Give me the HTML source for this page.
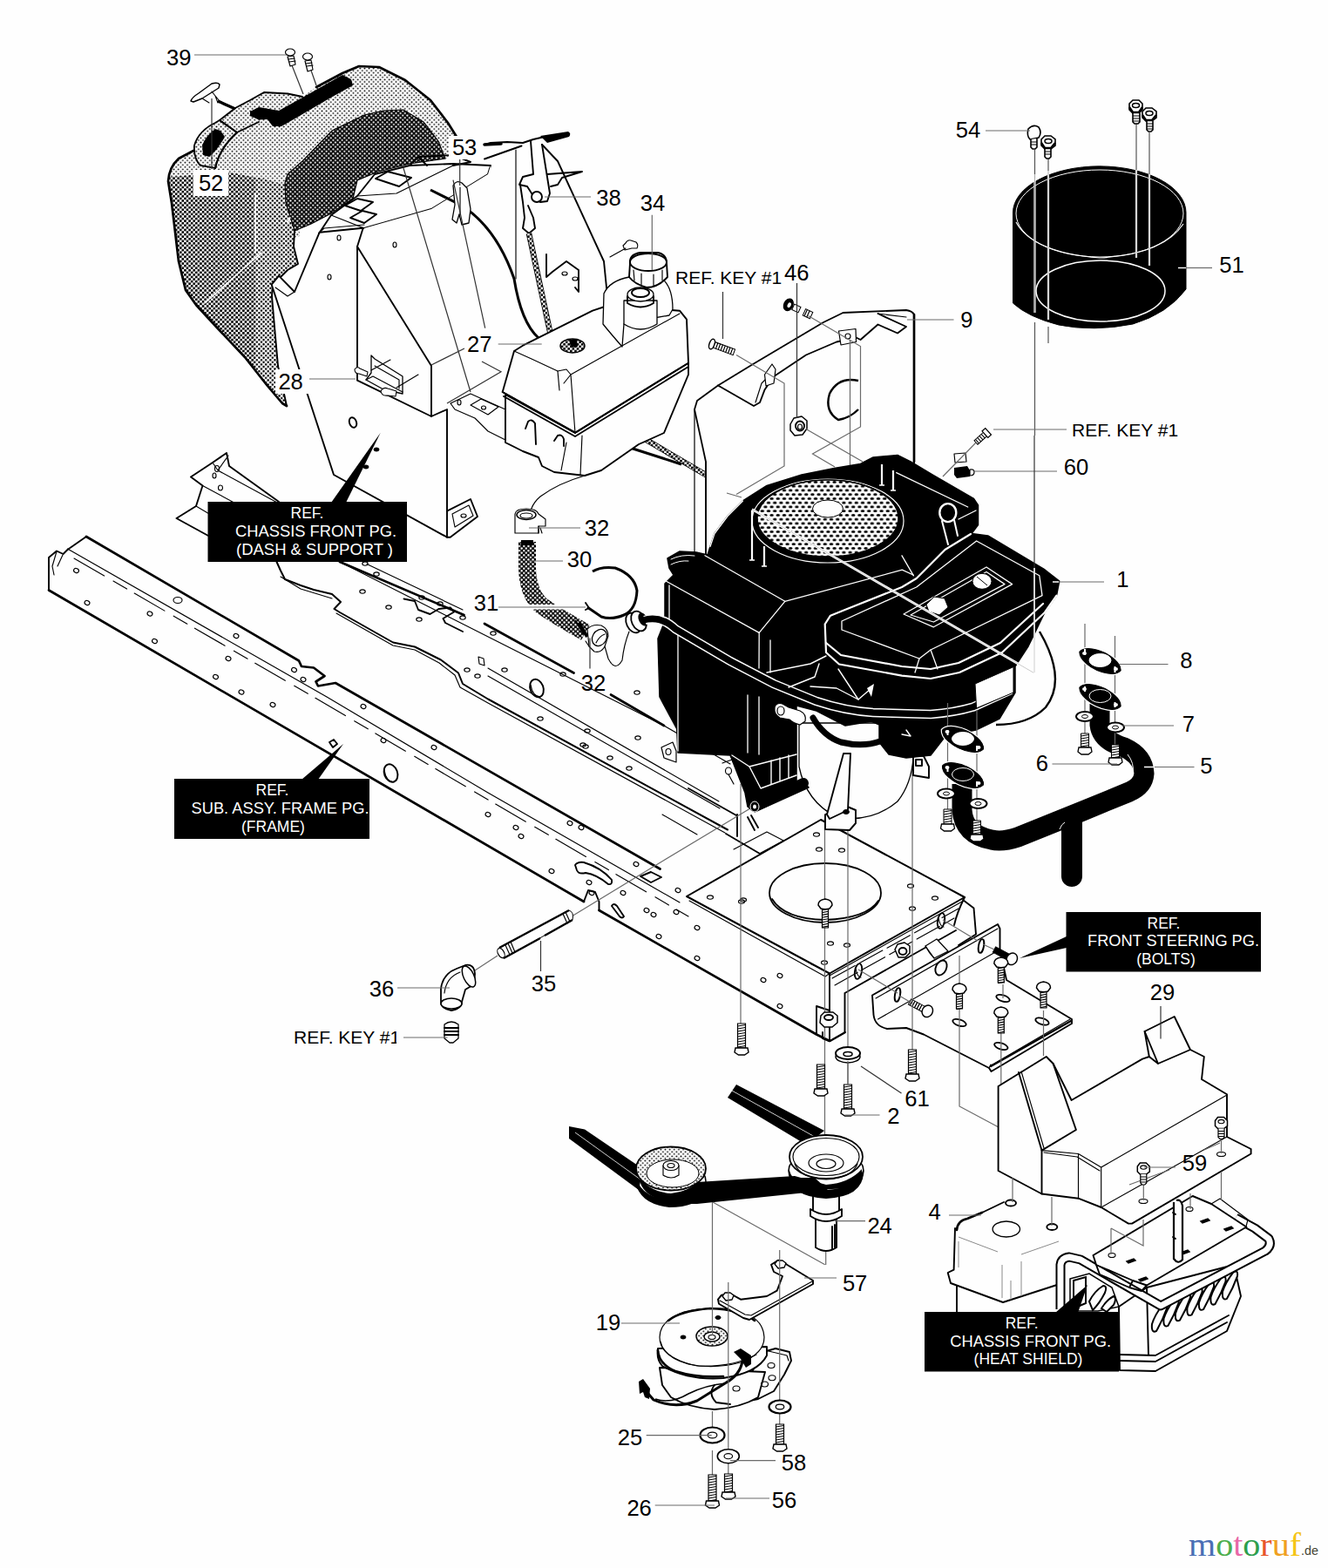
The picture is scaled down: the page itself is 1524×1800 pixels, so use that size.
<!DOCTYPE html>
<html><head><meta charset="utf-8"><title>Engine parts diagram</title>
<style>
html,body{margin:0;padding:0;background:#fefefe;}
body{width:1524px;height:1800px;overflow:hidden;font-family:"Liberation Sans",sans-serif;}
svg{display:block;position:absolute;left:0;top:0;}
.o{fill:#fefefe;stroke:#000;stroke-width:1.9;stroke-linejoin:round;stroke-linecap:round;}
.n{fill:none;stroke:#000;stroke-width:1.9;stroke-linejoin:round;stroke-linecap:round;}
.t{fill:none;stroke:#000;stroke-width:1.15;stroke-linejoin:round;stroke-linecap:round;}
.tw{fill:#fefefe;stroke:#000;stroke-width:1.15;stroke-linejoin:round;stroke-linecap:round;}
.h{fill:none;stroke:#000;stroke-width:2.7;stroke-linejoin:round;stroke-linecap:round;}
.l{fill:none;stroke:#6a6a6a;stroke-width:1.2;}
.g{fill:none;stroke:#8a8a8a;stroke-width:1;}
.k{fill:#000;stroke:#000;stroke-width:1;stroke-linejoin:round;}
.w{fill:none;stroke:#fefefe;stroke-width:1.5;stroke-linecap:round;stroke-linejoin:round;}
.wf{fill:#fefefe;stroke:none;}
.num{font-family:"Liberation Sans",sans-serif;font-size:25.6px;fill:#000;}
.ref{font-family:"Liberation Sans",sans-serif;font-size:21px;fill:#000;}
.lbl{font-family:"Liberation Sans",sans-serif;font-size:17.5px;fill:#fff;text-anchor:middle;}
</style></head><body>
<svg width="1524" height="1800" viewBox="0 0 1524 1800">
<defs>
<pattern id="d0" width="5.15" height="5.15" patternUnits="userSpaceOnUse"><rect width="5.15" height="5.15" fill="#fefefe"/><circle cx="1.2875" cy="1.2875" r="0.95" fill="#000"/><circle cx="3.8625" cy="3.8625" r="0.95" fill="#000"/></pattern>
<pattern id="dm" width="5.15" height="5.15" patternUnits="userSpaceOnUse"><rect width="5.15" height="5.15" fill="#fefefe"/><circle cx="1.2875" cy="1.2875" r="1.25" fill="#000"/><circle cx="3.8625" cy="3.8625" r="1.25" fill="#000"/></pattern>
<pattern id="d1" width="5.15" height="5.15" patternUnits="userSpaceOnUse"><rect width="5.15" height="5.15" fill="#fefefe"/><circle cx="1.2875" cy="1.2875" r="1.46" fill="#000"/><circle cx="3.8625" cy="3.8625" r="1.46" fill="#000"/></pattern>
<pattern id="d2" width="5.15" height="5.15" patternUnits="userSpaceOnUse"><rect width="5.15" height="5.15" fill="#000"/><circle cx="1.2875" cy="1.2875" r="1.05" fill="#fefefe"/><circle cx="3.8625" cy="3.8625" r="1.05" fill="#fefefe"/></pattern>
<pattern id="scr" width="7.2" height="9.5" patternUnits="userSpaceOnUse"><rect width="7.2" height="9.5" fill="#fefefe"/><ellipse cx="0" cy="2.4" rx="2.3" ry="1.5" fill="#000"/><ellipse cx="7.2" cy="2.4" rx="2.3" ry="1.5" fill="#000"/><ellipse cx="3.6" cy="7.15" rx="2.3" ry="1.5" fill="#000"/></pattern>
<pattern id="dh" width="5.15" height="5.15" patternUnits="userSpaceOnUse"><rect width="5.15" height="5.15" fill="#000"/><circle cx="1.2875" cy="1.2875" r="1.25" fill="#fefefe"/><circle cx="3.8625" cy="3.8625" r="1.25" fill="#fefefe"/></pattern>
</defs>
<!-- 10_hood.svg -->
<g id="hood">
<!-- upper light body -->
<path d="M222,173 L205,182 Q195,190 193,205 L197,233 L205,300 L300,300 L345,270 L330,230 L327,210 L347,185 L380,163 L413,143 L440,133 L470,127 L490,145 L505,165 L512,182 L528,182 L524,157 L514,141 L494,115 L465,92 L435,77 L412,76 L393,84 L363,100 L347,111 L330,107.5 L303,106 L287,115 L270,124 L252,138 L247,141 Q228,150 223,167 Z" fill="url(#d0)" stroke="none"/>
<!-- lower darker body -->
<path d="M194,203 L263,198 L300,205 L327,212 L330,232 L338,265 L337,283 L342,303 L330,310 L313,327 L312,340 L315,375 L319,420 L329,466 L324,463 L307,443 L281,410 L248,375 L225,350 L213,333 L205,300 L197,233 Z" fill="url(#d1)" stroke="none"/>
<path d="M293,205 L327,212 L330,232 L338,265 L337,283 L342,303 L330,310 L313,327 L312,340 L315,375 L319,420 L329,466 L324,463 L307,443 L293,425 Z" fill="url(#dm)" stroke="none"/>
<!-- inner dark opening -->
<path d="M511,182 L503,162 L486,140 L463,126 L440,127 L418,132 L381,150 L347,185 L330,200 L327,210 L328,233 L335,255 L338,265 L357,257 L380,245 L405,228 L410,207 L434,197 L470,188 Z" fill="url(#d2)" stroke="#000" stroke-width="1.2"/>
<!-- outline -->
<path class="h" d="M329,466 L324,463 L307,443 L281,410 L248,375 L225,350 L213,333 L205,300 L197,233 L193,208 Q194,192 205,182 L222,173"/>
<path class="n" d="M270,124 L287,115 L303,106 L330,107.5 L347,111"/>
<path class="h" d="M363,100 L393,84 L412,76 L435,77 L465,92 L494,115 L514,141 L524,157 L528,175"/>
<path class="n" d="M338,265 L337,283 L342,303 L330,310 L313,327 L312,340 L315,375 L319,420 L329,466"/>
<!-- ring boss -->
<path d="M252,138 L247,141 Q228,150 223,167 Q222,182 230,190 L247,193 Q252,170 272,152 Z" fill="url(#d0)" stroke="#000" stroke-width="1.8"/>
<path d="M247,148 Q236,156 232,167 L233,178 L240,180 Q250,172 258,157 L253,150 Z" fill="#000"/>
<path class="n" d="M252,138 L270,124 M252,138 L272,152 L297,140 M247,193 Q252,170 272,152"/>
<!-- black stripe -->
<path d="M287,128 L297,123 L320,127 L347,112 L393,86 L403,91 L405,98 L378,113 L337,137 L323,145 L313,145 L307,137 L297,137.5 L287,133 Z" fill="#000"/>
<!-- highlights -->
<path class="w" d="M293,222 L293,290 M235,348 L300,290 M330,255 L333,250"/>
</g>
<!-- 15_dash.svg -->
<g id="dash">
<!-- right tall panel (behind) -->
<path class="wf" d="M563,190 L600,168 L622,166 L640,185 L693,300 L698,350 L660,372 L640,390 L600,396 L590,403 L577,450 L560,440 L540,300 Z"/>
<path class="n" d="M556,182.500 L598.500,167.500"/>
<path class="n" d="M622,166 L640,185 L693,300 L698,350"/>
<!-- top bracket / top plate -->
<path class="o" d="M366,268 L380,247 L410,225 L430,200 L470,190 L520,188 L563,190 L560,200 L495,240 L418,262 Z"/>
<path class="t" d="M380,247 L418,262 M410,225 L455,222 L520,190"/>
<path class="n" d="M431,205 L445,197 L472,204 L458,214 Z M396,236 L410,228 L428,232 L414,242 Z M402,250 L416,242 L432,246 L418,256 Z"/>
<path class="n" d="M470,190 L480,180 L520,178 L540,186 L520,190 M480,180 L490,190"/>
<!-- side panel (going back) -->
<path class="wf" d="M418,262 L495,240 L560,200 L563,190 L575,300 L590,403 L577,450 L580,510 L560,500 L540,470 L513,470 L495,478 L495,420 L410,283 Z"/>
<!-- front panel -->
<path class="o" d="M311.700,326.700 L320,316.700 L338,335 L366.700,266.700 L416.700,261.700 L410,283 L410,436.700 L495,478 L513,470 L513,616.700 L383,545 Z"/>
<path class="n" d="M410,283 L495,420 L495,478"/>
<path class="t" d="M366.700,266.700 L372,262 L418,258 M338,335 L330,340 L316,330"/>
<path class="n" d="M513,616.700 L516.700,616.700 L548,593 L540,573 L513,586.700"/>
<path class="t" d="M519,590 L538,580 L543,592 L522,605 Z"/>
<ellipse cx="532" cy="592" rx="3" ry="2" class="t"/>
<ellipse cx="405" cy="485" rx="4" ry="6" class="n" transform="rotate(-20 405 485)"/>
<ellipse cx="389" cy="273" rx="2" ry="3" class="t"/><ellipse cx="453" cy="281" rx="2" ry="3" class="t"/><ellipse cx="378" cy="318" rx="2" ry="3" class="t"/>
<ellipse cx="432" cy="516" rx="3" ry="2" class="k"/><ellipse cx="420" cy="536" rx="3" ry="2" class="k"/>
<!-- small bracket 28 -->
<path class="o" d="M426,408 L426,428 L420,436 L440,447 L462,452 L462,432 L430,412 Z" style="stroke-width:1.3"/>
<path class="t" d="M430,420 L458,436 L458,446 M420,436 L428,432 L462,450"/>
<path class="o" d="M407,424 q3,-4 6,-1 l9,4 l-1,5 l-9,-3 q-5,0 -5,-5 z M437,449 q3,-5 8,-3 l10,3 l-1,6 l-9,-1 q-7,1 -8,-5 z" style="stroke-width:1.1"/>
<path class="t" d="M426,425 L448,413 M455,445 L480,430"/>
<!-- tank bracket under 27 -->
<path class="o" d="M517,463 L540,452 L580,470 L580,505 L560,495 L545,480 L522,470 Z" style="stroke-width:1.2"/>
<path class="t" d="M540,465 L552,458 L572,467 L560,476 Z"/>
<ellipse cx="555" cy="468" rx="2.500" ry="2" class="t"/><ellipse cx="527" cy="462" rx="2" ry="3" class="t"/>
<!-- lever 38 assembly -->
<path class="n" d="M556,166 L563,164 L582,163 L600,164 L612,160 L625,157"/>
<path class="h" d="M556,166 L575,165" style="stroke-width:3.500"/>
<path d="M620,156 L652,151 Q656,153 653,157 L628,164 Z" fill="#000"/>
<path class="n" d="M609,162 L612,200 L600,203 L596,212 L605,214 L612,225 L620,232 L628,231 L631,222 L622,166"/>
<path class="n" d="M628,200 L668,197 L645,204 L640,212 L632,214"/>
<circle cx="616" cy="226" r="6" class="o"/>
<path class="n" d="M597,212 L600,232 L602,250 L600,262 L607,268 L614,262 L612,250 L606,236"/>
<path class="t" d="M592,172 L592,320"/>
<!-- dotted cable -->
<path d="M607,268 L632,385 M700,480 L740,504 L815,548" fill="none" stroke="#000" stroke-width="6.500"/>
<path d="M607,268 L632,385 M700,480 L740,504 L815,548" fill="none" stroke="url(#d1)" stroke-width="5"/>
<path d="M815,546 L822,548 L822,558 L834,566" fill="none" stroke="#000" stroke-width="1.200"/>
<path d="M720,513 L782,533" fill="none" stroke="#000" stroke-width="3"/>
<!-- black cable 53 -->
<path d="M494,218 L530,236 Q570,262 590,320 Q598,370 618,388" fill="none" stroke="#000" stroke-width="3"/>
<!-- clip 53 -->
<path class="o" d="M520,213 Q524,206 530,210 L536,216 L540,240 L538,256 L530,258 L527,246 L524,256 L519,252 L522,235 Z" style="stroke-width:1.300"/>
<path class="t" d="M528,215 L528,246"/>
<!-- small clip near panel -->
<path class="n" d="M627,292 L627,318 L634,312 L650,300 L664,310 L664,335 L660,330"/>
<ellipse cx="648" cy="314" rx="3" ry="2" class="t"/><ellipse cx="660" cy="320" rx="3" ry="2" class="t"/>
</g>
<!-- 16_tank.svg -->
<g id="tank">
<!-- lower body -->
<path class="o" d="M580,453 L580,508 L600,518 L618,525 L622,535 L636,542 L671,546 L690,540 L733,510 L762,497 L790,430 L790,416 L660,497 Z"/>
<!-- upper body -->
<path class="o" d="M590,403 L600,396.700 L680,356.700 L700,350 L780,356.700 L788,366.700 L790,416.700 L660,496.700 L576.700,450 Z"/>
<path class="n" d="M576.700,450 L660,496.700 L790,416.700 M578,455 L660,501 L790,421"/>
<path class="t" d="M590,403 L610,412 L640,426 L650,424 L655,430 L647,440 M655,430 L660,497 M655,430 L780,360"/>
<path class="t" d="M640,426 L642,448 M668,500 L666,545 M650,508 L644,540"/>
<!-- strap -->
<path class="o" d="M693,337 Q700,322 722,318 L760,320 Q772,330 772,355 L768,362 L745,366 L716,372 L714,398 Q700,382 692,372 Z" style="stroke-width:1.300"/>
<!-- filler neck -->
<path class="o" d="M716,345 L716,372 Q735,384 754,372 L754,345 Z" style="stroke-width:1.300"/>
<ellipse cx="735" cy="338" rx="15" ry="8" class="o" style="stroke-width:1.300"/>
<ellipse cx="735" cy="336" rx="10" ry="5" class="n"/>
<path class="n" d="M720,340 L720,348 Q735,357 750,348 L750,340"/>
<!-- cap 34 -->
<path class="o" d="M723,302 Q722,292 735,290 L755,290 Q765,292 765,302 L766,318 Q755,330 742,330 Q728,326 722,318 Z"/>
<ellipse cx="744" cy="301" rx="21" ry="10" class="o"/>
<path class="t" d="M727,310 L728,322 M736,314 L736,327 M750,315 L750,329 M760,310 L760,322"/>
<!-- vent -->
<ellipse cx="657" cy="397" rx="14" ry="8" fill="url(#d1)" stroke="#000" stroke-width="1.500"/>
<path d="M653,390 L662,390 L663,398 L655,399 Z" fill="#000"/>
<!-- small screw -->
<path class="o" d="M718,279 q2,-4 6,-3 l6,2 q3,3 1,7 l-6,0 l-8,2 l-2,-5 z" style="stroke-width:1.100"/>
<path class="t" d="M700,295 L718,285"/>
<!-- tabs -->
<path class="n" d="M603,492 L606,484 Q610,480 614,486 L615,510 M636,506 L640,500 Q645,498 647,504 L647,512"/>
</g>
<!-- 18_fender.svg -->
<g id="fender">
<path class="o" d="M800,460 L824,442.500 L865,417.500 L945,370 L967.500,359 L1040,356 Q1047,357 1049,361 L1049,540 L810,640 L810,530 L797,470 Z" style="stroke-width:1.800"/>
<path class="n" d="M797,470 L797,640 M810,530 L810,640" style="stroke-width:1.200"/>
<path class="n" d="M824,442.500 L865,466 L872,462 L877.500,447.500 L887.500,432.500 L925,407.500 L960,392.500 L982.500,387.500 L987.500,390 L1007.500,372.500 L1030,382.500 L1040,375 L1007.500,360"/>
<path class="t" d="M1007.500,360 L1040,364 M867,462 L874,440 L888,426"/>
<path class="h" d="M1049,361 L1049,530"/>
<!-- hole C shape -->
<path d="M985,437 Q962,432 952,452 Q946,472 962,482 Q975,480 985,470" fill="none" stroke="#000" stroke-width="2.400"/>
<!-- tabs -->
<path class="o" d="M962.500,380 L982,377.500 L982.500,392.500 L965,396 Z" style="stroke-width:1.200"/>
<ellipse cx="973" cy="386" rx="3" ry="3" class="t"/>
<path class="o" d="M877.500,430 L886,418 L890,424 L888,440 L879,443 Z" style="stroke-width:1.200"/>
<!-- nut -->
<path class="o" d="M907,487 l4,-7 l9,-2 l6,5 l0,9 l-5,7 l-9,1 l-5,-6 z" style="stroke-width:1.500"/>
<ellipse cx="918" cy="489" rx="5" ry="5.500" class="n"/><ellipse cx="918" cy="490" rx="2.500" ry="3" class="t"/>
<!-- screws -->
<g transform="translate(817,395) rotate(20)"><ellipse cx="0" cy="0" rx="3" ry="6" fill="#fefefe" stroke="#000" stroke-width="1.500"/><rect x="3" y="-3.500" width="24" height="7" fill="#fefefe" stroke="#000" stroke-width="1"/><path d="M6,-3.500 v7 M9,-3.500 v7 M12,-3.500 v7 M15,-3.500 v7 M18,-3.500 v7 M21,-3.500 v7 M24,-3.500 v7" stroke="#000" stroke-width="1.200"/></g>
<g transform="translate(903,349) rotate(25)"><ellipse cx="2" cy="0" rx="5" ry="7" fill="#000" stroke="#000" stroke-width="1.500"/><ellipse cx="3" cy="0" rx="2" ry="3" fill="#fefefe"/><rect x="8" y="-3.500" width="8" height="7" fill="#fefefe" stroke="#000" stroke-width="1"/><rect x="22" y="-4" width="9" height="8" fill="#fefefe" stroke="#000" stroke-width="1"/><path d="M24,-4 v8 M27,-4 v8" stroke="#000" stroke-width="1.200"/></g>
<!-- leader/assembly lines -->
<path class="l" stroke="#444" d="M845,407.500 L900,440 L900,535 L845,567.500 M851,571 L834,566 M927.500,362.500 L987.500,397.500 L987.500,490 L932.500,521 L958,536 M925,492.500 L990,530 M975.500,390 L975.500,535"/>
<!-- part 60 clip & screw -->
<path d="M1095,537 L1110,535 L1113,540 L1113,547 L1098,549 L1095,545 Z" fill="#000"/>
<path class="o" d="M1113,539 q5,-1 5,3 q0,4 -5,4 z" style="stroke-width:1.200"/>
<path class="tw" d="M1095,521 L1108,520 L1109,530 L1096,531 Z"/>
<g transform="translate(1120,508) rotate(-42)"><rect x="0" y="-3" width="14" height="6" fill="#fefefe" stroke="#000" stroke-width="1"/><path d="M2,-3 v6 M5,-3 v6 M8,-3 v6 M11,-3 v6" stroke="#000" stroke-width="1"/><path d="M14,-5 h5 v10 h-5 z" fill="#fefefe" stroke="#000" stroke-width="1.200"/></g>
<path class="l" stroke="#444" d="M1082,547 L1120,508"/>
</g>
<!-- 20_ring51.svg -->
<g id="ring51">
<path d="M1162.5,244 A99,53 0 0 1 1361,244 L1361,332 Q1340,360 1300,372 Q1255,381 1215,373 Q1180,364 1162.5,348 Z" fill="#000" stroke="#000" stroke-width="1"/>
<ellipse cx="1262" cy="245" rx="96" ry="50" fill="none" stroke="#fefefe" stroke-width="1"/>
<path d="M1166,255 Q1185,290 1262,296 Q1335,292 1358,257" fill="none" stroke="#fefefe" stroke-width="1.2"/>
<ellipse cx="1263" cy="334" rx="74" ry="35" fill="none" stroke="#fefefe" stroke-width="1.5"/>
<!-- long bolts: grey outside, white inside -->
<g fill="none" stroke="#555" stroke-width="1.2">
<path d="M1187.5,172 L1187.5,205 M1203,182 L1203,200 M1304,142 L1304,200 M1319,152 L1319,205"/>
<path d="M1187.5,370 L1187.5,500 M1203,375 L1203,394"/>
</g>
<g fill="none" stroke="#fefefe" stroke-width="2.2">
<path d="M1187.5,200 L1187.5,359 M1203,196 L1203,367 M1304,195 L1304,296 M1319,200 L1319,305"/>
</g>
<g fill="none" stroke="#777" stroke-width="0.6">
<path d="M1187.5,200 L1187.5,359 M1203,196 L1203,367 M1304,195 L1304,296 M1319,200 L1319,305"/>
</g>
<!-- bolts -->
<g id="hexb">
</g>
<g stroke="#000" stroke-width="1.6" fill="#fefefe">
<path d="M1296,119 L1300,115 L1307,115 L1311,119 L1311,126 L1307,130 L1300,130 L1296,126 Z"/>
<path d="M1300,130 L1300,140 L1302,142 L1306,142 L1308,140 L1308,130"/>
<path d="M1311,128 L1315,124 L1322,124 L1327,128 L1327,135 L1322,139 L1315,139 L1311,135 Z"/>
<path d="M1316,139 L1316,149 L1318,151 L1321,151 L1323,149 L1323,139"/>
<path d="M1195,160 L1199,156 L1206,156 L1211,160 L1211,167 L1206,171 L1199,171 L1195,167 Z"/>
<path d="M1199,171 L1199,180 L1201,182 L1204,182 L1206,180 L1206,171"/>
<path d="M1180,148 Q1186,142 1192,146 Q1196,152 1192,158 L1182,160 Q1178,156 1180,148 Z"/>
<path d="M1183,160 L1183,169 L1185,171 L1188,171 L1190,169 L1190,159"/>
</g>
<g stroke="#000" stroke-width="1" fill="none">
<path d="M1300,133 h8 M1300,136 h8 M1300,139 h8 M1316,142 h7 M1316,145 h7 M1316,148 h7 M1199,174 h7 M1199,177 h7 M1183,163 h7 M1183,166 h7"/>
<ellipse cx="1303.500" cy="121" rx="4" ry="2.500" stroke-width="1.500"/><ellipse cx="1319" cy="130" rx="4" ry="2.500" stroke-width="1.500"/><ellipse cx="1203" cy="162" rx="4" ry="2.500" stroke-width="1.500"/>
<path d="M1296,123 l4,6 h7 l4,-6 M1311,132 l4,6 h7 l5,-6 M1195,164 l4,6 h7 l5,-6" stroke-width="2.500"/>
</g>
<!-- leaders -->
<path d="M1352,307.500 L1361,307.500" stroke="#fefefe" stroke-width="1.4" fill="none"/>
<path class="l" d="M1361,307.500 L1391,307.500"/>
<path class="l" d="M1131,150 L1182,150"/>
</g>
<!-- 30_frame.svg -->
<g id="frame">
<path class="wf" d="M317,645 L390,645 L532,706 L660,774 L762,835 L840,880 L840,955 L762,920 L531,785 L445,733 L383,699 Z"/>
<path class="h" d="M390,645 L532.5,706 M556,716 L658.5,772.5 M701,797.5 L762,833"/>
<path class="t" d="M421,647.5 L531,700"/>
<path class="t" d="M390,645 L762,833 L838,877"/>
<path class="t" d="M560,767 L825,920 M560,776 L826,928"/>
<path class="h" style="stroke-width:2" d="M317.500,645 L322,655 L327,665 L345,672 L360,677 L381,682 L391,691 L383.500,699 L390,703 L451,737.500 L476,742.500 L506,757.500 L526,772.500 L531,785 L560,802.500 L835,952.500"/>
<path class="t" d="M322,662 L345,676 L381,687 M386,704 L451,741 L476,746 L504,761 L522,775 L528,789 L560,807 L832,956"/>
<path class="n" d="M463.500,687.500 L476,690 L480,700 L493.500,705 L503.500,699 L517,697.500 L521,702.500 L508.500,710 L511,715 L531,725"/>
<ellipse cx="616" cy="790" rx="7.500" ry="10.500" class="n" transform="rotate(-20 616 790)"/>
<path class="t" d="M609,786 Q611,799 620,800"/>
<path class="t" d="M549,754 L555,756 L556,764 L550,762 Z"/>
<ellipse cx="419" cy="647" rx="3.200" ry="2.200" class="t"/>
<ellipse cx="432" cy="659" rx="3.200" ry="2.200" class="t"/>
<ellipse cx="416" cy="679" rx="3.200" ry="2.200" class="t"/>
<ellipse cx="446" cy="697" rx="3.200" ry="2.200" class="t"/>
<ellipse cx="484" cy="686" rx="3.200" ry="2.200" class="t"/>
<ellipse cx="505" cy="693" rx="3.200" ry="2.200" class="t"/>
<ellipse cx="481" cy="711" rx="3.200" ry="2.200" class="t"/>
<ellipse cx="531" cy="709" rx="3.200" ry="2.200" class="t"/>
<ellipse cx="566" cy="727" rx="3.200" ry="2.200" class="t"/>
<ellipse cx="536" cy="769" rx="3.200" ry="2.200" class="t"/>
<ellipse cx="548" cy="776" rx="3.200" ry="2.200" class="t"/>
<ellipse cx="579" cy="769" rx="3.200" ry="2.200" class="t"/>
<ellipse cx="646" cy="774" rx="3.200" ry="2.200" class="t"/>
<ellipse cx="674" cy="839" rx="3.200" ry="2.200" class="t"/>
<ellipse cx="732" cy="847" rx="3.200" ry="2.200" class="t"/>
<ellipse cx="672" cy="857" rx="3.200" ry="2.200" class="t"/>
<ellipse cx="700" cy="870" rx="3.200" ry="2.200" class="t"/>
<ellipse cx="722" cy="882" rx="3.200" ry="2.200" class="t"/>
<ellipse cx="731" cy="795" rx="3.200" ry="2.200" class="t"/>
<ellipse cx="669" cy="855" rx="3.200" ry="2.200" class="t"/>
<ellipse cx="620" cy="825" rx="3.200" ry="2.200" class="t"/>
<path class="wf" d="M99,616 L343,758.500 L385,784 L757.500,997.500 L790,1030 L952,1117 L952,1195 L937,1187.500 L687.500,1045 L687.500,1035 L670,1035 L56,677.500 L56,640 L77.500,631 Z"/>
<path class="h" d="M99,616 L343,758.500 L346,765 L360,766.500 L372.500,776 L362.500,782.500 L365,787.500 L385,784 L757.500,997.500"/>
<path class="n" d="M99,616 L77.500,631 L72.500,636 L65,632.500 L56,640 L56,677.500"/>
<path class="t" d="M65,633 L60,650 L62,660 M72,637 L66,650"/>
<path class="h" d="M56,677.500 L670,1035"/>
<path class="n" d="M670,1035 L675,1022 L683,1024 L687.500,1035 L687.500,1045"/>
<path class="h" d="M687.500,1045 L937,1187.500 L952,1195 L969.500,1185"/>
<path class="t" d="M77.500,630 L375,800 L560,910 L780,1036"/>
<path class="t" stroke-dasharray="40 12 18 10" d="M85,641 L370,806 L560,918 L790,1052"/>
<ellipse cx="87.5" cy="655" rx="3" ry="2.400" class="t" transform="rotate(25 87.5 655)"/>
<ellipse cx="100" cy="692" rx="3" ry="2.400" class="t" transform="rotate(25 100 692)"/>
<ellipse cx="172" cy="704.5" rx="3" ry="2.400" class="t" transform="rotate(25 172 704.5)"/>
<ellipse cx="177.5" cy="736" rx="3" ry="2.400" class="t" transform="rotate(25 177.5 736)"/>
<ellipse cx="271" cy="730" rx="3" ry="2.400" class="t" transform="rotate(25 271 730)"/>
<ellipse cx="262" cy="756" rx="3" ry="2.400" class="t" transform="rotate(25 262 756)"/>
<ellipse cx="247.5" cy="777" rx="3" ry="2.400" class="t" transform="rotate(25 247.5 777)"/>
<ellipse cx="277" cy="794.5" rx="3" ry="2.400" class="t" transform="rotate(25 277 794.5)"/>
<ellipse cx="313" cy="809" rx="3" ry="2.400" class="t" transform="rotate(25 313 809)"/>
<ellipse cx="337.5" cy="769" rx="3" ry="2.400" class="t" transform="rotate(25 337.5 769)"/>
<ellipse cx="348" cy="780" rx="3" ry="2.400" class="t" transform="rotate(25 348 780)"/>
<ellipse cx="417" cy="811" rx="3" ry="2.400" class="t" transform="rotate(25 417 811)"/>
<ellipse cx="440" cy="850" rx="3" ry="2.400" class="t" transform="rotate(25 440 850)"/>
<ellipse cx="498" cy="858" rx="3" ry="2.400" class="t" transform="rotate(25 498 858)"/>
<ellipse cx="560" cy="935" rx="3" ry="2.400" class="t" transform="rotate(25 560 935)"/>
<ellipse cx="592" cy="950" rx="3" ry="2.400" class="t" transform="rotate(25 592 950)"/>
<ellipse cx="598" cy="960" rx="3" ry="2.400" class="t" transform="rotate(25 598 960)"/>
<ellipse cx="633" cy="1000" rx="3" ry="2.400" class="t" transform="rotate(25 633 1000)"/>
<ellipse cx="654" cy="945" rx="3" ry="2.400" class="t" transform="rotate(25 654 945)"/>
<ellipse cx="667" cy="950" rx="3" ry="2.400" class="t" transform="rotate(25 667 950)"/>
<ellipse cx="676" cy="1013" rx="3" ry="2.400" class="t" transform="rotate(25 676 1013)"/>
<ellipse cx="679" cy="1025" rx="3" ry="2.400" class="t" transform="rotate(25 679 1025)"/>
<ellipse cx="730" cy="992" rx="3" ry="2.400" class="t" transform="rotate(25 730 992)"/>
<ellipse cx="715" cy="1025" rx="3" ry="2.400" class="t" transform="rotate(25 715 1025)"/>
<ellipse cx="742" cy="1045" rx="3" ry="2.400" class="t" transform="rotate(25 742 1045)"/>
<ellipse cx="750" cy="1050" rx="3" ry="2.400" class="t" transform="rotate(25 750 1050)"/>
<ellipse cx="756" cy="1075" rx="3" ry="2.400" class="t" transform="rotate(25 756 1075)"/>
<ellipse cx="778" cy="1022" rx="3" ry="2.400" class="t" transform="rotate(25 778 1022)"/>
<ellipse cx="776" cy="1047" rx="3" ry="2.400" class="t" transform="rotate(25 776 1047)"/>
<ellipse cx="800" cy="1065" rx="3" ry="2.400" class="t" transform="rotate(25 800 1065)"/>
<ellipse cx="800" cy="1100" rx="3" ry="2.400" class="t" transform="rotate(25 800 1100)"/>
<ellipse cx="876" cy="1125" rx="3" ry="2.400" class="t" transform="rotate(25 876 1125)"/>
<ellipse cx="895" cy="1120" rx="3" ry="2.400" class="t" transform="rotate(25 895 1120)"/>
<ellipse cx="895" cy="1155" rx="3" ry="2.400" class="t" transform="rotate(25 895 1155)"/>
<ellipse cx="912" cy="1080" rx="3" ry="2.400" class="t" transform="rotate(25 912 1080)"/>
<ellipse cx="933" cy="1105" rx="3" ry="2.400" class="t" transform="rotate(25 933 1105)"/>
<ellipse cx="204" cy="689" rx="5" ry="3.500" class="t"/>
<ellipse cx="448.500" cy="887.500" rx="7.500" ry="10.500" class="n" transform="rotate(-20 448.500 887.500)"/>
<path class="t" d="M441,884 Q443,897 452,898"/>
<path class="n" d="M660,993 Q663,989 670,990 Q690,996 702,1010 Q703,1016 698,1015 Q685,1004 672,1002 Q664,1004 662,999 Z"/>
<path class="n" d="M735,1006 L747,1001 L759,1007 L747,1013 Z"/>
<path class="n" d="M702,1040 Q704,1036 708,1040 L716,1052 Q714,1055 711,1052 Z"/>
<path class="n" d="M378,852 l5,-3 l4,5 l-5,4 z"/>
<path class="o" d="M260,520 L244,531 L219,547.500 L232.500,557.500 L225,581 L202.500,595 L239,615 L300,615 L320,576 L263,535 Z"/>
<path class="t" d="M244,531 L250,540 L320,578 M232.500,557.500 L300,594 M225,581 L262,603 M250,540 L262,523"/>
<ellipse cx="249" cy="538" rx="2.500" ry="3.500" class="t"/><ellipse cx="246" cy="546" rx="2" ry="3" class="t"/><ellipse cx="253" cy="560" rx="2.500" ry="3" class="t"/>
<path class="n" d="M833,957 L872,980 L898,966 M846,935 L846,960 M790,905 L845,936"/>
<path class="t" d="M760,935 L800,958 M842,975 L880,955 L905,968"/>
<path class="n" d="M858,938 L866,953 M862,936 L870,950"/>
</g>
<!-- 35_hose.svg -->
<g id="hose">
<!-- wire from tank to clamp -->
<path class="t" d="M671,546 Q640,555 620,570 Q606,582 608,600"/>
<!-- hose 30 -->
<path d="M605,622 L605,650 Q605,680 621,695 Q640,708 672,726" fill="none" stroke="url(#dh)" stroke-width="20" stroke-linecap="butt"/>
<rect x="600" y="694" width="76" height="5.500" fill="#fefefe"/>
<path d="M664,715 L674,731" stroke="#000" stroke-width="4" fill="none"/>
<path d="M660,712 L670,728" stroke="#000" stroke-width="2" fill="none"/>
<path d="M598,620 L612,620 L612,626 L598,626 Z" fill="#000"/>
<!-- clamp 32 upper -->
<path class="tw" d="M591,590 Q592,584 604,584 Q616,584 618,590 L626,596 L626,604 L618,604 L618,612 L591,612 Z" stroke="#555"/>
<ellipse cx="604" cy="591" rx="11" ry="5.500" fill="#fefefe" stroke="#000" stroke-width="1.500"/>
<ellipse cx="604" cy="592" rx="7" ry="3" class="t"/>
<path class="t" d="M618,604 L618,612 M620,606 L622,612"/>
<!-- C-ring 31 -->
<path d="M680,656 Q690,650 706,652 Q728,660 731,678 Q730,700 716,706 Q702,712 690,708 L674,697" fill="none" stroke="#000" stroke-width="3"/>
<path d="M682,658 Q692,654 706,655 Q726,662 728,678 Q727,698 714,703 Q702,708 692,705 L677,696" fill="none" stroke="#fefefe" stroke-width="1"/>
<path class="n" d="M672,692 L676,698 L672,700"/>
<!-- clamp 32 lower -->
<path class="tw" d="M674,722 Q680,716 690,718 Q698,722 698,730 L694,742 Q690,750 682,748 L676,742 Z" stroke="#555"/>
<ellipse cx="688" cy="732" rx="8" ry="10" fill="#fefefe" stroke="#000" stroke-width="1.300" transform="rotate(30 688 732)"/>
<path class="t" d="M684,738 Q688,730 694,728 M676,742 L672,736"/>
<!-- fitting on engine -->
<ellipse cx="727" cy="715" rx="8" ry="12" fill="#fefefe" stroke="#000" stroke-width="1.800" transform="rotate(-25 727 715)"/>
<ellipse cx="733" cy="713" rx="8" ry="12" fill="#fefefe" stroke="#000" stroke-width="1.800" transform="rotate(-25 733 713)"/>
<ellipse cx="738" cy="711" rx="5" ry="8" fill="#000" transform="rotate(-25 738 711)"/>
<path class="t" d="M722,725 Q716,740 714,758 Q706,772 698,756 L694,742"/>
<!-- pipe 35 -->
<path class="l" stroke="#333" d="M543.500,1115 L571,1097 M656,1052 L762,987.500 L866,925"/>
<path d="M573,1088 L653,1045 Q659,1047 657,1056 L578,1100 Q570,1099 573,1088 Z" fill="#fefefe" stroke="#000" stroke-width="1"/>
<path d="M573,1088 L653,1045 M578,1100 L620,1077 M625,1074 L657,1056" fill="none" stroke="#000" stroke-width="2.400"/>
<path class="t" d="M580,1085 L585,1096 M583,1083 L588,1094 M586,1081 L591,1093 M646,1049 L651,1060 M649,1047 L654,1058"/>
<ellipse cx="575" cy="1094" rx="3.500" ry="6" class="tw" transform="rotate(-28 575 1094)"/>
<!-- elbow 36 -->
<path class="o" d="M506,1150 L506,1135 Q508,1118 524,1112 L534,1108 Q544,1106 545,1118 L544,1130 L534,1136 L530,1150 Q530,1158 518,1160 Q506,1158 506,1150 Z" style="stroke-width:1.800"/>
<ellipse cx="538" cy="1121" rx="6" ry="13" class="o" transform="rotate(-25 538 1121)" style="stroke-width:1.500"/>
<ellipse cx="518" cy="1152" rx="12" ry="6" class="o" style="stroke-width:1.500"/>
<path class="t" d="M510,1140 Q512,1122 528,1116"/>
<!-- plug -->
<path class="o" d="M510,1176 Q518,1170 526,1176 L526,1192 L520,1197 L516,1197 L510,1192 Z" style="stroke-width:1.300"/>
<path class="n" d="M510,1180 h16 M510,1184 h16 M510,1188 h16"/>
</g>
<!-- 40_engplate.svg -->
<g id="engplate">
<path class="wf" d="M788,1029 L942,941 L1107,1030 L1119.500,1042.500 L1119.500,1075 L969.500,1185 L952,1195 L952,1117 Z"/>
<path class="n" d="M952,1117.500 L952,1195 M969.500,1140 L969.500,1185 M969.500,1140 L1097,1068"/>
<path class="n" d="M1105,1033 L1117.500,1042.500 L1120,1072.500 L1100,1085 M1107,1030 Q1098,1048 1095,1062"/>
<path class="t" stroke-dasharray="30 6" d="M955,1123 L1100,1043 M958,1131 L1095,1054"/>
<path class="n" d="M937,1155 L952,1160 M937,1155 L937,1187"/>
<path class="n" d="M952,1195 L969.500,1185"/>
<ellipse cx="985" cy="1115" rx="4" ry="9" class="n" transform="rotate(10 985 1115)"/>
<ellipse cx="1080" cy="1057" rx="4" ry="9" class="n" transform="rotate(10 1080 1057)"/>
<path class="t" d="M982,1112 Q984,1122 988,1122 M1077,1054 Q1079,1064 1083,1064"/>
<path class="o" d="M1027,1090 l3,-6 l8,-2 l6,4 l0,8 l-5,5 l-8,0 z" style="stroke-width:1.500"/>
<ellipse cx="1036" cy="1092" rx="4.500" ry="4" class="n"/>
<path class="o" d="M1062,1086 L1075,1078 L1088,1092 L1072,1100 Z" style="stroke-width:1.200"/>
<path class="t" d="M1062,1086 Q1066,1094 1072,1100"/>
<path class="o" d="M788,1029 L942,941 L1107,1030 L952,1117.500 Z" style="stroke-width:2"/>
<path class="t" d="M791,1034 L947,1121 L952,1117.500"/>
<path class="t" d="M952,1120 L1104,1035"/>
<ellipse cx="947" cy="1025" rx="64" ry="34" fill="#fefefe" stroke="#000" stroke-width="1.800"/>
<path class="n" d="M886,1032 Q900,1055 947,1056 Q995,1054 1008,1034"/>
<ellipse cx="815" cy="1030" rx="3.500" ry="2.200" class="t"/>
<ellipse cx="851" cy="1035" rx="3.500" ry="2.200" class="t"/>
<ellipse cx="853" cy="1033" rx="3.500" ry="2.200" class="t"/>
<ellipse cx="937" cy="958" rx="3.500" ry="2.200" class="t"/>
<ellipse cx="966" cy="976" rx="3.500" ry="2.200" class="t"/>
<ellipse cx="1045" cy="1017" rx="3.500" ry="2.200" class="t"/>
<ellipse cx="1073" cy="1031" rx="3.500" ry="2.200" class="t"/>
<ellipse cx="1047" cy="1043" rx="3.500" ry="2.200" class="t"/>
<ellipse cx="953" cy="1083" rx="3.500" ry="2.200" class="t"/>
<ellipse cx="972" cy="1085" rx="3.500" ry="2.200" class="t"/>
<ellipse cx="946" cy="1105" rx="3.500" ry="2.200" class="t"/>
<ellipse cx="940" cy="975" rx="3.500" ry="2.200" class="t"/>
<path class="o" d="M1001,1142.500 L1145,1061 L1147.500,1066 L1147.500,1090 L1155,1125 L1230,1170 L1230,1175 L1137.500,1230 L1135,1226 L1060,1187.500 L1040,1180 L1018,1181 Q1004,1178 1002.500,1165 Z"/>
<path class="t" d="M1007.500,1170 L1147.500,1090 M1005,1146 L1145,1066"/>
<path class="t" d="M1137.500,1223 L1228,1170 M1135,1226 L1137,1222"/>
<path class="n" d="M1137,1224 L1229,1172" style="stroke-width:2.500"/>
<ellipse cx="1030" cy="1142" rx="3" ry="8" class="n" transform="rotate(10 1030 1142)"/>
<ellipse cx="1126" cy="1086" rx="3" ry="8" class="n" transform="rotate(10 1126 1086)"/>
<ellipse cx="1080" cy="1111" rx="6" ry="9" class="n" transform="rotate(25 1080 1111)"/>
<ellipse cx="1101" cy="1174" rx="8" ry="3.5" class="n" transform="rotate(18 1101 1174)"/>
<ellipse cx="1148.8" cy="1201" rx="8" ry="3.5" class="n" transform="rotate(18 1148.8 1201)"/>
<ellipse cx="1151" cy="1146" rx="8" ry="3.5" class="n" transform="rotate(18 1151 1146)"/>
<ellipse cx="1196" cy="1172.5" rx="8" ry="3.5" class="n" transform="rotate(18 1196 1172.5)"/>
<g transform="translate(1044,1150) rotate(28)"><rect x="0" y="-3.500" width="18" height="7" fill="#fefefe" stroke="#000" stroke-width="1"/><path d="M2,-3.500 v7 M5,-3.500 v7 M8,-3.500 v7 M11,-3.500 v7 M14,-3.500 v7" stroke="#000" stroke-width="1.300"/><ellipse cx="23" cy="0" rx="6" ry="7" fill="#fefefe" stroke="#000" stroke-width="1.500"/></g>
<g transform="translate(1141,1090) rotate(28)"><rect x="0" y="-3.500" width="18" height="7" fill="#000" stroke="#000" stroke-width="1"/><ellipse cx="23" cy="0" rx="6" ry="7" fill="#fefefe" stroke="#000" stroke-width="1.500"/></g>
<path class="l" stroke="#333" d="M1032,1143 L1044,1150 M1128,1084 L1141,1090 M985,1113 L1030,1140 M1082,1056 L1122,1080"/>
<path class="l" stroke="#333" d="M1101,1097 L1101,1270 L1146,1294 M1148.800,1185 L1148.800,1250 M1197.500,1160 L1197.500,1212 M1151,1130 L1151,1146"/>
<path d="M1097.5,1138 L1104.5,1138 L1104.5,1158 L1097.5,1158 Z" fill="#fefefe" stroke="#000" stroke-width="1.2"/><path d="M1097.5,1141.8 L1104.5,1140.5 M1097.5,1144.6 L1104.5,1143.3 M1097.5,1147.4 L1104.5,1146.1 M1097.5,1150.2 L1104.5,1148.9 M1097.5,1153 L1104.5,1151.7 M1097.5,1155.8 L1104.5,1154.5 M1097.5,1158.6 L1104.5,1157.3 " fill="none" stroke="#000" stroke-width="1.1"/><path d="M1093,1136 Q1093,1130 1101,1129 Q1109,1130 1109,1136 L1106,1140 Q1101,1141.5 1096,1140 Z" fill="#fefefe" stroke="#000" stroke-width="1.5"/>
<path d="M1145.3,1165 L1152.3,1165 L1152.3,1186 L1145.3,1186 Z" fill="#fefefe" stroke="#000" stroke-width="1.2"/><path d="M1145.3,1168.8 L1152.3,1167.5 M1145.3,1171.6 L1152.3,1170.3 M1145.3,1174.4 L1152.3,1173.1 M1145.3,1177.2 L1152.3,1175.9 M1145.3,1180 L1152.3,1178.7 M1145.3,1182.8 L1152.3,1181.5 M1145.3,1185.6 L1152.3,1184.3 " fill="none" stroke="#000" stroke-width="1.1"/><path d="M1140.8,1163 Q1140.8,1157 1148.8,1156 Q1156.8,1157 1156.8,1163 L1153.8,1167 Q1148.8,1168.5 1143.8,1167 Z" fill="#fefefe" stroke="#000" stroke-width="1.5"/>
<path d="M1145.3,1108 L1152.3,1108 L1152.3,1128 L1145.3,1128 Z" fill="#fefefe" stroke="#000" stroke-width="1.2"/><path d="M1145.3,1111.8 L1152.3,1110.5 M1145.3,1114.6 L1152.3,1113.3 M1145.3,1117.4 L1152.3,1116.1 M1145.3,1120.2 L1152.3,1118.9 M1145.3,1123 L1152.3,1121.7 M1145.3,1125.8 L1152.3,1124.5 M1145.3,1128.6 L1152.3,1127.3 " fill="none" stroke="#000" stroke-width="1.1"/><path d="M1140.8,1106 Q1140.8,1100 1148.8,1099 Q1156.8,1100 1156.8,1106 L1153.8,1110 Q1148.8,1111.5 1143.8,1110 Z" fill="#fefefe" stroke="#000" stroke-width="1.5"/>
<path d="M1194,1136 L1201,1136 L1201,1157 L1194,1157 Z" fill="#fefefe" stroke="#000" stroke-width="1.2"/><path d="M1194,1139.8 L1201,1138.5 M1194,1142.6 L1201,1141.3 M1194,1145.4 L1201,1144.1 M1194,1148.2 L1201,1146.9 M1194,1151 L1201,1149.7 M1194,1153.8 L1201,1152.5 M1194,1156.6 L1201,1155.3 " fill="none" stroke="#000" stroke-width="1.1"/><path d="M1189.5,1134 Q1189.5,1128 1197.5,1127 Q1205.5,1128 1205.5,1134 L1202.5,1138 Q1197.5,1139.5 1192.5,1138 Z" fill="#fefefe" stroke="#000" stroke-width="1.5"/>
<path class="l" stroke="#333" d="M850,900 L850,1175 M946.500,940 L946.500,1337 M973,925 L973,1245 M1047,865 L1047,1205"/>
<path d="M943.5,1041 L950.5,1041 L950.5,1065 L943.5,1065 Z" fill="#fefefe" stroke="#000" stroke-width="1.2"/><path d="M943.5,1044.8 L950.5,1043.5 M943.5,1047.6 L950.5,1046.3 M943.5,1050.4 L950.5,1049.1 M943.5,1053.2 L950.5,1051.9 M943.5,1056 L950.5,1054.7 M943.5,1058.8 L950.5,1057.5 M943.5,1061.6 L950.5,1060.3 M943.5,1064.4 L950.5,1063.1 " fill="none" stroke="#000" stroke-width="1.1"/><path d="M939,1039 Q939,1033 947,1032 Q955,1033 955,1039 L952,1043 Q947,1044.5 942,1043 Z" fill="#fefefe" stroke="#000" stroke-width="1.5"/>
<path class="o" d="M942,1166 l4,-4 l10,0 l5,4 l0,8 l-6,5 l-9,0 l-5,-5 z" style="stroke-width:1.500"/>
<ellipse cx="951" cy="1168" rx="5" ry="3" class="n"/>
<path class="n" d="M944,1185 L944,1192 L952,1195"/>
<ellipse cx="973" cy="1213" rx="14" ry="7" fill="#fefefe" stroke="#000" stroke-width="1.500"/>
<ellipse cx="973" cy="1209" rx="14" ry="7" fill="#fefefe" stroke="#000" stroke-width="2"/>
<ellipse cx="973" cy="1210" rx="5" ry="2.500" fill="#fefefe" stroke="#000" stroke-width="1.500"/>
<path d="M846.5,1175 L855.5,1175 L855.5,1203 L846.5,1203 Z" fill="#fefefe" stroke="#000" stroke-width="1.2"/><path d="M846.5,1178 L855.5,1176.5 M846.5,1181 L855.5,1179.5 M846.5,1184 L855.5,1182.5 M846.5,1187 L855.5,1185.5 M846.5,1190 L855.5,1188.5 M846.5,1193 L855.5,1191.5 M846.5,1196 L855.5,1194.5 M846.5,1199 L855.5,1197.5 M846.5,1202 L855.5,1200.5 " fill="none" stroke="#000" stroke-width="1.2"/><path d="M844,1203 L858,1203 L859,1208 L854.5,1211 L847.5,1211 L843,1208 Z" fill="#fefefe" stroke="#000" stroke-width="1.4"/>
<path d="M1042.5,1205 L1051.5,1205 L1051.5,1233 L1042.5,1233 Z" fill="#fefefe" stroke="#000" stroke-width="1.2"/><path d="M1042.5,1208 L1051.5,1206.5 M1042.5,1211 L1051.5,1209.5 M1042.5,1214 L1051.5,1212.5 M1042.5,1217 L1051.5,1215.5 M1042.5,1220 L1051.5,1218.5 M1042.5,1223 L1051.5,1221.5 M1042.5,1226 L1051.5,1224.5 M1042.5,1229 L1051.5,1227.5 M1042.5,1232 L1051.5,1230.5 " fill="none" stroke="#000" stroke-width="1.2"/><path d="M1040,1233 L1054,1233 L1055,1238 L1050.5,1241 L1043.5,1241 L1039,1238 Z" fill="#fefefe" stroke="#000" stroke-width="1.4"/>
<path d="M937.5,1222 L946.5,1222 L946.5,1250 L937.5,1250 Z" fill="#fefefe" stroke="#000" stroke-width="1.2"/><path d="M937.5,1225 L946.5,1223.5 M937.5,1228 L946.5,1226.5 M937.5,1231 L946.5,1229.5 M937.5,1234 L946.5,1232.5 M937.5,1237 L946.5,1235.5 M937.5,1240 L946.5,1238.5 M937.5,1243 L946.5,1241.5 M937.5,1246 L946.5,1244.5 M937.5,1249 L946.5,1247.5 " fill="none" stroke="#000" stroke-width="1.2"/><path d="M935,1250 L949,1250 L950,1255 L945.5,1258 L938.5,1258 L934,1255 Z" fill="#fefefe" stroke="#000" stroke-width="1.4"/>
<path d="M968.5,1245 L977.5,1245 L977.5,1273 L968.5,1273 Z" fill="#fefefe" stroke="#000" stroke-width="1.2"/><path d="M968.5,1248 L977.5,1246.5 M968.5,1251 L977.5,1249.5 M968.5,1254 L977.5,1252.5 M968.5,1257 L977.5,1255.5 M968.5,1260 L977.5,1258.5 M968.5,1263 L977.5,1261.5 M968.5,1266 L977.5,1264.5 M968.5,1269 L977.5,1267.5 M968.5,1272 L977.5,1270.5 " fill="none" stroke="#000" stroke-width="1.2"/><path d="M966,1273 L980,1273 L981,1278 L976.5,1281 L969.5,1281 L965,1278 Z" fill="#fefefe" stroke="#000" stroke-width="1.4"/>
<path class="l" stroke="#333" d="M973,1218 L973,1245"/>
</g>
<!-- 50_engine.svg -->
<g id="engine">
<!-- crankcase white bottom (drawn first) -->
<path class="o" d="M917,830 L917,880 Q925,920 960,938 Q1000,945 1030,920 Q1046,900 1048,870 L1048,830 Z" style="stroke-width:1.300"/>
<path class="o" d="M947,935 L947,952 L975,953 L982,945 L982,930 L970,925 Z"/>
<path class="o" d="M968,865 L949,935 L952,940 L973,930 L976,865 Z"/>
<ellipse cx="971" cy="932" rx="3.500" ry="2.500" class="k"/>
<path class="o" d="M1048,865 L1060,868 L1066,880 L1066,893 L1048,890 Z"/>
<rect x="1051" y="872" width="7" height="7" class="n"/>
<!-- small hose under -->
<path d="M933,824 Q945,845 965,852 Q990,858 1010,851" fill="none" stroke="#000" stroke-width="7" stroke-linecap="round"/>
<!-- main black silhouette -->
<path d="M1002,525 L1030,522.500 L1045,530 L1070,545 L1117.500,572.500 L1122.500,580 L1122.500,602.500 L1115,612.500 L1133.700,615 L1199,654 L1215.700,667 L1212.500,683.700 L1199,703 L1180,742 L1165,765 L1165,795 L1147,825 L1120,838 L1085,845 L1068,867 L1040,870 L1020,866 L1009,852 L1009,832 L1000,828 L970,833 L937,816 L914,810 L914,903 L922,897 L928,904 L866,932 L858,926 L855,910 L838,867 L778,864 L776.700,836.700 L757,800 L755,733 L763,713 L763,670 L773,660 L768,652 L766,641 L780,633 L799,634 L812,637 L815,627.500 L820,612.500 L835,592.500 L852.500,575 L880,557.500 L920,545 L957.500,537.500 L987.500,532.500 Z" fill="#000" stroke="#000" stroke-width="1.500" stroke-linejoin="round"/>
<!-- screen -->
<ellipse cx="950" cy="598" rx="87" ry="48" fill="none" stroke="#fefefe" stroke-width="1.200"/>
<ellipse cx="950" cy="595" rx="81" ry="44" fill="url(#scr)" stroke="#000" stroke-width="1.500"/>
<ellipse cx="950" cy="584" rx="17.500" ry="10" fill="#fefefe" stroke="#000" stroke-width="1"/>
<!-- white detail lines -->
<g class="w" style="stroke-width:1.3">
<path d="M764.600,667.300 L871.200,726.400 L900.800,690.300 L809,637.800"/>
<path d="M900.800,690.300 L1035.300,654.200 L1048,660"/>
<path d="M871.200,726.400 L871,767 M884,735 L884,772 M768,672 L768,713"/>
<path d="M815,627.500 L820,612.500 L835,592.500 L852.500,575"/>
<path d="M1028.700,542.600 L1110.700,582"/>
<path d="M1035,637.800 L1048.400,660.800"/>
<path d="M1100,596 L1120,586"/>
<path d="M778,720 L778,862 M858,798 L858,864 M871,800 L871,866"/>
</g>
<!-- lifting eye -->
<ellipse cx="1087.800" cy="588.600" rx="9.500" ry="10.500" fill="none" stroke="#fefefe" stroke-width="2.400"/>
<path class="w" style="stroke-width:2" d="M1081,598 L1088,625 M1095,597 L1099,615"/>
<!-- air cleaner cover -->
<g class="w" style="stroke-width:2.2">
<path d="M1114,613 L1084.500,631 L1051.700,664 L1035,674 L969.700,700 L953,706.700 L946.700,716.500 L948,749 L963,762.500 L1035,775.600 L1068,779 L1101,772 L1150,749 L1199,703 L1212.500,683.700"/>
<path d="M948,738 L965,752 L1035,765 L1068,768 L1100,761 L1148,738 L1197,693"/>
</g>
<g class="w" style="stroke-width:1.3">
<path d="M966,713 L1051.700,674 L1120.600,621 L1192.800,660.800 L1196,683.700 L1068,746 L1055,756 L966,723 Z"/>
<path d="M1037,705 L1132,651 L1161.600,670.600 L1071.400,719.800 Z"/>
<path d="M1045,706 L1132,656.500 L1153,670.600 L1071.400,714 Z"/>
<path d="M1055,756 L1050,772 M1068,746 L1076,768"/>
</g>
<ellipse cx="1127" cy="667.300" rx="11" ry="9" fill="#fefefe" stroke="#000" stroke-width="1"/>
<path d="M1121,662 L1133,672" stroke="#000" stroke-width="1" fill="none"/>
<path d="M1063,694 L1072,685 L1084,687 L1088,697 L1078,706 L1066,702 Z" fill="#fefefe" stroke="#000" stroke-width="1"/>
<!-- wrap-around hose -->
<path d="M740,712 Q758,706 775,722 L838,759 L888,785 L937,805 Q970,816 1002,818 L1068,820 Q1095,818 1117,811.500 L1160,792" fill="none" stroke="#fefefe" stroke-width="10.500" stroke-linecap="butt"/>
<path d="M738,712 Q758,706 775,722 L838,759 L888,785 L937,805 Q970,816 1002,818 L1068,820 Q1095,818 1117,811.500 L1162,791" fill="none" stroke="#000" stroke-width="7.500" stroke-linecap="butt"/>
<!-- lower front details -->
<g class="w" style="stroke-width:1.400">
<path d="M880,772 L930,762 L948,753"/>
<path d="M905,789 L935,777 L940,762"/>
<path d="M930,788 L960,790 L985,803 L1000,790"/>
<path d="M962,768 L985,803"/>
<path d="M840,867 L860,880 L914,866"/>
<path d="M860,880 L873,905 L914,890"/>
<path d="M885,873 L885,900 M895,870 L895,896 M905,867 L905,893"/>
<path d="M1040,838 L1045,845 L1035,843"/>
</g>
<path d="M995,790 L1003,785 L1000,800 Z" fill="#fefefe"/>
<!-- carb fitting white -->
<path d="M889,812 Q891,806 898,808 L905,812 L918,816 Q926,820 924,828 L918,832 Q910,830 906,826 L895,824 Q888,820 889,812 Z" fill="#fefefe" stroke="#000" stroke-width="1.200"/>
<ellipse cx="896" cy="816" rx="4" ry="5" fill="#fefefe" stroke="#000" stroke-width="1.200"/>
<!-- oil cap highlight -->
<path class="w" style="stroke-width:1" d="M770,642 Q782,636 797,638 M770,648 Q780,643 790,644"/>
<!-- long bolts on shroud (white) -->
<g fill="none" stroke="#fefefe" stroke-width="2.200">
<path d="M863,586 L863,643 M877,627 L877,650 M1012,533 L1012,557 M1025,540 L1025,563"/>
<path d="M860,643 h6 M874,650 h6 M1009,557 h6 M1022,563 h6" stroke-width="1.500"/>
</g>
<!-- diagonal bolt leader (white) -->
<path d="M863,584.600 L1186.200,772.300" fill="none" stroke="#fefefe" stroke-width="2.800"/>
<path d="M863,584.600 L1186.200,772.300" fill="none" stroke="#999" stroke-width="0.500"/>
<!-- skid tube lower-left -->
<path d="M866,926 L922,899" fill="none" stroke="#000" stroke-width="12" stroke-linecap="round"/>
<ellipse cx="866" cy="926" rx="5" ry="6" fill="#000" stroke="#fefefe" stroke-width="1"/>
<ellipse cx="866" cy="926" rx="2" ry="2.500" fill="#fefefe"/>
<!-- small bolt at left foot -->
<ellipse cx="836" cy="885" rx="3.500" ry="4" class="tw"/>
<path class="n" d="M829,876 L840,872 L846,884 M836,889 L842,900" style="stroke-width:1.200"/>
<!-- right-side wire loop -->
<path d="M1193,725 Q1225,780 1200,812 Q1180,832 1143,832" fill="none" stroke="#000" stroke-width="2.400"/>
<!-- bracket white -->
<path d="M1119,785 L1163,765.600 L1163,795 L1120.600,813 Z" fill="#fefefe" stroke="#000" stroke-width="1"/>
<!-- left tab on rail side -->
<path class="o" d="M759,858 L772,852 L776,862 L776,875 L762,870 Z" style="stroke-width:1.200"/>
<ellipse cx="767" cy="863" rx="3" ry="3.500" class="t"/>
</g>
<!-- 55_exhaust.svg -->
<g id="exhaust">
<path d="M1262,808 L1262,832 Q1264,850 1290,858 Q1312,868 1313,888 Q1312,902 1296,909 L1240,932 L1168,961 Q1150,967 1138,964 Q1106,958 1104,930 L1104,900" fill="none" stroke="#000" stroke-width="23" stroke-linejoin="round"/>
<path d="M1230,940 L1230,1006" fill="none" stroke="#000" stroke-width="24" stroke-linecap="round"/>
<path d="M1294,866 Q1302,876 1300,888 M1216,952 Q1218,946 1222,944" fill="none" stroke="#fefefe" stroke-width="1"/>
<path class="l" d="M1245,716 L1245,842 M1279.500,730 L1279.500,855 M1087.500,807 L1087.500,930 M1121,815 L1121,942" stroke="#333"/>
<g transform="translate(1262.5 759) rotate(25)"><path d="M-26,0 Q-24,-6 -14,-9 Q0,-13 14,-9 Q24,-6 26,0 Q24,6 14,9 Q0,13 -14,9 Q-24,6 -26,0 Z" fill="#000" stroke="#fefefe" stroke-width="3.5"/><path d="M-26,0 Q-24,-6 -14,-9 Q0,-13 14,-9 Q24,-6 26,0 Q24,6 14,9 Q0,13 -14,9 Q-24,6 -26,0 Z" fill="#000" stroke="#000" stroke-width="1"/></g><ellipse cx="1262.5" cy="758" rx="12.500" ry="7.500" fill="#fefefe" stroke="#fefefe" stroke-width="1"/><ellipse cx="1244.5" cy="750" rx="2.500" ry="2" fill="#fefefe"/><ellipse cx="1280.5" cy="768" rx="2.500" ry="2" fill="#fefefe"/>
<g transform="translate(1262.5 800) rotate(25)"><path d="M-26,0 Q-24,-6 -14,-9 Q0,-13 14,-9 Q24,-6 26,0 Q24,6 14,9 Q0,13 -14,9 Q-24,6 -26,0 Z" fill="#000" stroke="#fefefe" stroke-width="3.5"/><path d="M-26,0 Q-24,-6 -14,-9 Q0,-13 14,-9 Q24,-6 26,0 Q24,6 14,9 Q0,13 -14,9 Q-24,6 -26,0 Z" fill="#000" stroke="#000" stroke-width="1"/></g><ellipse cx="1262.5" cy="799" rx="12.500" ry="7.500" fill="#000" stroke="#fefefe" stroke-width="1"/><ellipse cx="1244.5" cy="791" rx="2.500" ry="2" fill="#fefefe"/><ellipse cx="1280.5" cy="809" rx="2.500" ry="2" fill="#fefefe"/>
<g transform="translate(1105 849) rotate(25)"><path d="M-26,0 Q-24,-6 -14,-9 Q0,-13 14,-9 Q24,-6 26,0 Q24,6 14,9 Q0,13 -14,9 Q-24,6 -26,0 Z" fill="#000" stroke="#fefefe" stroke-width="3.5"/><path d="M-26,0 Q-24,-6 -14,-9 Q0,-13 14,-9 Q24,-6 26,0 Q24,6 14,9 Q0,13 -14,9 Q-24,6 -26,0 Z" fill="#000" stroke="#000" stroke-width="1"/></g><ellipse cx="1105" cy="848" rx="12.500" ry="7.500" fill="#fefefe" stroke="#fefefe" stroke-width="1"/><ellipse cx="1087" cy="840" rx="2.500" ry="2" fill="#fefefe"/><ellipse cx="1123" cy="858" rx="2.500" ry="2" fill="#fefefe"/>
<g transform="translate(1105 890) rotate(25)"><path d="M-26,0 Q-24,-6 -14,-9 Q0,-13 14,-9 Q24,-6 26,0 Q24,6 14,9 Q0,13 -14,9 Q-24,6 -26,0 Z" fill="#000" stroke="#fefefe" stroke-width="3.5"/><path d="M-26,0 Q-24,-6 -14,-9 Q0,-13 14,-9 Q24,-6 26,0 Q24,6 14,9 Q0,13 -14,9 Q-24,6 -26,0 Z" fill="#000" stroke="#000" stroke-width="1"/></g><ellipse cx="1105" cy="889" rx="12.500" ry="7.500" fill="#000" stroke="#fefefe" stroke-width="1"/><ellipse cx="1087" cy="881" rx="2.500" ry="2" fill="#fefefe"/><ellipse cx="1123" cy="899" rx="2.500" ry="2" fill="#fefefe"/>
<path d="M1245,745 L1245,752 M1279.500,765 L1279.500,772 M1245,788 L1245,794 M1279.500,806 L1279.500,812 M1087.500,838 L1087.500,844 M1121,856 L1121,862 M1087.500,880 L1087.500,886 M1121,897 L1121,903" stroke="#fefefe" stroke-width="2" fill="none"/>
<ellipse cx="1245" cy="822.5" rx="10" ry="5.500" fill="#fefefe" stroke="#000" stroke-width="2"/><ellipse cx="1245" cy="822.5" rx="3.500" ry="2" fill="#fefefe" stroke="#000" stroke-width="1"/>
<ellipse cx="1280" cy="835" rx="10" ry="5.500" fill="#fefefe" stroke="#000" stroke-width="2"/><ellipse cx="1280" cy="835" rx="3.500" ry="2" fill="#fefefe" stroke="#000" stroke-width="1"/>
<ellipse cx="1086" cy="911" rx="10" ry="5.500" fill="#fefefe" stroke="#000" stroke-width="2"/><ellipse cx="1086" cy="911" rx="3.500" ry="2" fill="#fefefe" stroke="#000" stroke-width="1"/>
<ellipse cx="1122.5" cy="922.5" rx="10" ry="5.500" fill="#fefefe" stroke="#000" stroke-width="2"/><ellipse cx="1122.5" cy="922.5" rx="3.500" ry="2" fill="#fefefe" stroke="#000" stroke-width="1"/>
<path d="M1240.5,842 L1249.5,842 L1249.5,858 L1240.5,858 Z" fill="#fefefe" stroke="#000" stroke-width="1"/><path d="M1240.5,845 L1249.5,843.5 M1240.5,848 L1249.5,846.5 M1240.5,851 L1249.5,849.5 M1240.5,854 L1249.5,852.5 M1240.5,857 L1249.5,855.5 " fill="none" stroke="#000" stroke-width="1.200"/><path d="M1238,858 L1252,858 L1253,863 L1249,866 L1241,866 L1237,863 Z" fill="#fefefe" stroke="#000" stroke-width="1.300"/>
<path d="M1275.5,855 L1284.5,855 L1284.5,870 L1275.5,870 Z" fill="#fefefe" stroke="#000" stroke-width="1"/><path d="M1275.5,858 L1284.5,856.5 M1275.5,861 L1284.5,859.5 M1275.5,864 L1284.5,862.5 M1275.5,867 L1284.5,865.5 M1275.5,870 L1284.5,868.5 " fill="none" stroke="#000" stroke-width="1.200"/><path d="M1273,870 L1287,870 L1288,875 L1284,878 L1276,878 L1272,875 Z" fill="#fefefe" stroke="#000" stroke-width="1.300"/>
<path d="M1083,929 L1092,929 L1092,946 L1083,946 Z" fill="#fefefe" stroke="#000" stroke-width="1"/><path d="M1083,932 L1092,930.5 M1083,935 L1092,933.5 M1083,938 L1092,936.5 M1083,941 L1092,939.5 M1083,944 L1092,942.5 " fill="none" stroke="#000" stroke-width="1.200"/><path d="M1080.5,946 L1094.5,946 L1095.5,951 L1091.5,954 L1083.5,954 L1079.5,951 Z" fill="#fefefe" stroke="#000" stroke-width="1.300"/>
<path d="M1116.5,942 L1125.5,942 L1125.5,958 L1116.5,958 Z" fill="#fefefe" stroke="#000" stroke-width="1"/><path d="M1116.5,945 L1125.5,943.5 M1116.5,948 L1125.5,946.5 M1116.5,951 L1125.5,949.5 M1116.5,954 L1125.5,952.5 M1116.5,957 L1125.5,955.5 " fill="none" stroke="#000" stroke-width="1.200"/><path d="M1114,958 L1128,958 L1129,963 L1125,966 L1117,966 L1113,963 Z" fill="#fefefe" stroke="#000" stroke-width="1.300"/>
</g>
<!-- 60_belt.svg -->
<g id="belt">
<!-- hub 24 below right pulley -->
<path class="o" d="M933,1373 L933,1392 Q948,1400 963,1392 L963,1373 Z"/>
<path class="o" d="M936,1395 L936,1432 Q948,1440 960,1432 L960,1395 Z"/>
<path class="n" d="M930,1388 Q948,1400 966,1388 L966,1396 Q948,1408 930,1396 Z" style="fill:#fefefe"/>
<path class="n" d="M955,1408 L955,1434 M958,1406 L958,1432"/>
<!-- right pulley lower belt wrap -->
<ellipse cx="948" cy="1344" rx="43" ry="25" fill="#fefefe" stroke="#000" stroke-width="1.500"/>
<path d="M905,1336 Q905,1364 948,1366 Q991,1364 991,1336 L991,1346 Q990,1374 948,1376 Q906,1374 905,1346 Z" fill="#000"/>
<!-- left pulley lower wrap -->
<ellipse cx="770" cy="1356" rx="40" ry="25" fill="#fefefe" stroke="#000" stroke-width="1.500"/>
<path d="M730,1348 Q732,1374 770,1378 Q800,1378 810,1360 L810,1368 Q800,1386 768,1386 Q734,1382 730,1358 Z" fill="#000"/>
<!-- belt middle -->
<path d="M786,1366 L912,1352 L935,1352 L950,1366 L935,1368 L800,1382 L772,1382 Z" fill="#000"/>
<path d="M733,1350 Q736,1376 770,1379 L800,1379 L934,1366 L975,1364 L989,1350 L989,1342 Q975,1358 948,1360 L912,1350 L800,1357 Q790,1368 770,1370 Q745,1368 735,1352 Z" fill="#000"/>
<!-- belt left arm -->
<path d="M653,1293 L671,1296.500 L738,1342 L733,1366 L653,1307 Z" fill="#000"/>
<path d="M660,1300 L735,1354" fill="none" stroke="#fefefe" stroke-width="0.800"/>
<!-- belt right arm -->
<path d="M845,1245 L946,1298 L925,1314 L835,1260 Z" fill="#000"/>
<path d="M840,1252 L935,1305" fill="none" stroke="#fefefe" stroke-width="0.800"/>
<!-- left pulley top -->
<ellipse cx="770" cy="1341.500" rx="40" ry="25" fill="url(#d0)" stroke="#000" stroke-width="1.800"/>
<ellipse cx="772" cy="1347" rx="30" ry="16" fill="#fefefe" stroke="#000" stroke-width="1"/>
<path class="tw" d="M761,1338 L761,1349 Q770,1355 779,1349 L779,1338 Z"/>
<ellipse cx="770" cy="1338" rx="9" ry="5.500" class="tw"/>
<ellipse cx="770" cy="1338" rx="4" ry="2.500" class="t"/>
<!-- right pulley top -->
<ellipse cx="948" cy="1328" rx="42" ry="25" fill="#fefefe" stroke="#000" stroke-width="1.800"/>
<ellipse cx="948" cy="1328" rx="38" ry="21.500" class="t"/>
<ellipse cx="948" cy="1335" rx="20" ry="10" class="t"/>
<ellipse cx="948" cy="1336" rx="11" ry="5.500" class="t"/>
<path class="t" d="M912,1336 Q918,1352 948,1354 Q978,1352 984,1336"/>
</g>
<!-- 62_clutch.svg -->
<g id="clutch">
<path class="o" d="M876,1552 L890,1548 L906,1552 L908,1562 L900,1578 L888,1597 L870,1606 L845,1611 L838,1598 L860,1580 Z"/>
<path class="t" d="M882,1551 L903,1556 L905,1562"/>
<path class="o" d="M757,1570 L760,1590 L770,1604 Q790,1616 820,1618 Q850,1616 870,1604 L878,1575 Z"/>
<path class="o" d="M755,1548 Q753,1560 760,1568 Q790,1585 830,1582 Q870,1576 880,1556 L880,1546 Z"/>
<path class="h" d="M755,1550 Q756,1566 775,1574 Q800,1582 830,1580"/>
<path class="o" d="M757,1535 Q757,1556 790,1566 Q820,1572 850,1564 Q877,1554 877,1535 Q876,1512 845,1504 Q815,1499 785,1506 Q757,1516 757,1535 Z" style="stroke-width:1.2"/>
<path class="h" d="M767,1516 Q780,1505 815,1502 Q850,1503 866,1516"/>
<path class="t" d="M758,1540 Q762,1560 800,1568 Q840,1570 868,1555"/>
<ellipse cx="817" cy="1534" rx="18" ry="11" fill="url(#d0)" stroke="#000" stroke-width="1.500"/>
<ellipse cx="817" cy="1534.500" rx="9" ry="5.500" fill="#fefefe" stroke="#000" stroke-width="1.500"/>
<ellipse cx="817" cy="1535" rx="4" ry="2.500" class="t"/>
<ellipse cx="824" cy="1512.500" rx="3" ry="2" class="k"/><ellipse cx="784" cy="1535" rx="3" ry="2" class="k"/>
<ellipse cx="885" cy="1567.5" rx="4" ry="3" class="t"/>
<ellipse cx="886" cy="1581.7" rx="4" ry="3" class="t"/>
<ellipse cx="877.5" cy="1589" rx="4" ry="3" class="t"/>
<ellipse cx="845" cy="1594" rx="4" ry="3" class="t"/>
<path d="M842,1552 L850,1548 L862,1556 L862,1566 L856,1570 L850,1560 Z" fill="#000"/>
<path d="M852,1562 Q850,1578 832,1588 L800,1608 Q775,1618 750,1607 L738,1593" fill="none" stroke="#000" stroke-width="3"/>
<path d="M833,1588 Q810,1590 790,1600 Q770,1612 752,1606" fill="none" stroke="#000" stroke-width="1.500"/>
<path d="M733,1586 L738,1583 L746,1594 L745,1606 L740,1604 L738,1598 L734,1600 Z" fill="#000"/>
<path class="n" d="M820,1590 Q812,1600 822,1610 L838,1612"/>
<path class="o" d="M824,1491.700 L828,1486.700 L838,1485 L850,1491.700 L880,1488 L891.700,1481.700 L898,1465 L888,1460 L885,1451.700 L893,1446.700 L903,1451.700 L933,1470 L933,1474 L860,1515 L853,1513 L825,1496.700 Z"/>
<path class="t" d="M826,1493 L855,1509 L862,1510 L932,1471"/>
<path class="o" d="M829,1488 l3,-4 l6,0 l4,3 l-2,5 l-7,1 z M889,1451 l3,-4 l6,0 l4,3 l-2,5 l-7,1 z" style="stroke-width:1.300"/>
<path class="l" stroke="#333" d="M817.500,1380 L817.500,1533 M817.500,1620 L817.500,1647 M817.500,1665 L817.500,1693 M835.800,1472 L835.800,1692 M894.700,1435 L894.700,1635 M947.700,1437 L947.700,1452 M818,1380 L946.700,1451.700"/>
<ellipse cx="817.5" cy="1647.5" rx="14" ry="9" fill="#fefefe" stroke="#000" stroke-width="2.2"/><ellipse cx="817.5" cy="1647.5" rx="5.32" ry="3.42" fill="#fefefe" stroke="#000" stroke-width="1.2"/>
<ellipse cx="835.8" cy="1671.7" rx="12.5" ry="8" fill="#fefefe" stroke="#000" stroke-width="1.6"/><ellipse cx="835.8" cy="1671.7" rx="4.75" ry="3.04" fill="#fefefe" stroke="#000" stroke-width="1.2"/>
<ellipse cx="895" cy="1615" rx="12.5" ry="7.5" fill="#fefefe" stroke="#000" stroke-width="2.2"/><ellipse cx="895" cy="1615" rx="4.75" ry="2.85" fill="#fefefe" stroke="#000" stroke-width="1.2"/>
<path d="M890.5,1635 L899.5,1635 L899.5,1658 L890.5,1658 Z" fill="#fefefe" stroke="#000" stroke-width="1.2"/><path d="M890.5,1638 L899.5,1636.5 M890.5,1641 L899.5,1639.5 M890.5,1644 L899.5,1642.5 M890.5,1647 L899.5,1645.5 M890.5,1650 L899.5,1648.5 M890.5,1653 L899.5,1651.5 M890.5,1656 L899.5,1654.5 " fill="none" stroke="#000" stroke-width="1.2"/><path d="M888,1658 L902,1658 L903,1663 L898.5,1666 L891.5,1666 L887,1663 Z" fill="#fefefe" stroke="#000" stroke-width="1.4"/>
<path d="M813,1693 L822,1693 L822,1723 L813,1723 Z" fill="#fefefe" stroke="#000" stroke-width="1.2"/><path d="M813,1696 L822,1694.5 M813,1699 L822,1697.5 M813,1702 L822,1700.5 M813,1705 L822,1703.5 M813,1708 L822,1706.5 M813,1711 L822,1709.5 M813,1714 L822,1712.5 M813,1717 L822,1715.5 M813,1720 L822,1718.5 M813,1723 L822,1721.5 " fill="none" stroke="#000" stroke-width="1.2"/><path d="M810.5,1723 L824.5,1723 L825.5,1728 L821,1731 L814,1731 L809.5,1728 Z" fill="#fefefe" stroke="#000" stroke-width="1.4"/>
<path d="M831.5,1692 L840.5,1692 L840.5,1713 L831.5,1713 Z" fill="#fefefe" stroke="#000" stroke-width="1.2"/><path d="M831.5,1695 L840.5,1693.5 M831.5,1698 L840.5,1696.5 M831.5,1701 L840.5,1699.5 M831.5,1704 L840.5,1702.5 M831.5,1707 L840.5,1705.5 M831.5,1710 L840.5,1708.5 M831.5,1713 L840.5,1711.5 " fill="none" stroke="#000" stroke-width="1.2"/><path d="M829,1713 L843,1713 L844,1718 L839.5,1721 L832.5,1721 L828,1718 Z" fill="#fefefe" stroke="#000" stroke-width="1.4"/>
</g>
<!-- 70_muffler.svg -->
<g id="muffler">
<path class="wf" d="M1098,1409.500 Q1100,1400 1110,1399 L1127,1392 L1179.700,1365 L1300,1400 L1420,1440 L1426,1490 L1408,1528 L1326,1574 L1285,1573 L1212,1540 L1212,1500 L1151,1495 L1098,1506 L1094.600,1457.600 Z"/>
<path class="h" d="M1098,1412 Q1099,1401 1110,1399 L1127,1392"/>
<path class="n" d="M1127,1392 L1152,1380 M1096,1410 L1094.600,1457.600 L1087.700,1461 L1091,1473 L1151,1495 L1213,1475"/>
<path class="n" d="M1098,1476 L1098,1505.800"/>
<path class="g" d="M1100,1420 L1145,1437 M1172,1440 L1215,1425 M1172,1448 L1172,1488 M1150,1452 L1150,1490 M1100,1425 L1100,1455 M1160,1470 L1160,1492"/>
<ellipse cx="1154.800" cy="1411" rx="15.700" ry="9" class="o" style="stroke-width:1.300"/>
<ellipse cx="1160" cy="1381" rx="6" ry="3.500" class="n"/><ellipse cx="1207.300" cy="1408.500" rx="6" ry="3.500" class="n"/>
<path class="o" d="M1284,1500 L1316,1478 L1416,1452 L1424,1488 L1408,1528 L1326,1574 L1285,1573 Z"/>
<path class="n" d="M1285,1555 L1326,1556 L1410,1510 M1285,1562 L1326,1563 L1408,1518 M1316,1478 L1318,1556"/>
<path d="M1322,1520 q3,-10 12,-22 q6,-4 5,4 q-5,14 -12,26 q-6,3 -5,-8 z M1335.5,1513.8 q3,-10 12,-22 q6,-4 5,4 q-5,14 -12,26 q-6,3 -5,-8 z M1349,1507.6 q3,-10 12,-22 q6,-4 5,4 q-5,14 -12,26 q-6,3 -5,-8 z M1362.5,1501.4 q3,-10 12,-22 q6,-4 5,4 q-5,14 -12,26 q-6,3 -5,-8 z M1376,1495.2 q3,-10 12,-22 q6,-4 5,4 q-5,14 -12,26 q-6,3 -5,-8 z M1389.5,1489 q3,-10 12,-22 q6,-4 5,4 q-5,14 -12,26 q-6,3 -5,-8 z M1403,1482.8 q3,-10 12,-22 q6,-4 5,4 q-5,14 -12,26 q-6,3 -5,-8 z " fill="#fefefe" stroke="#000" stroke-width="2"/>
<path d="M1228,1468 L1250,1462 L1276,1478 L1284,1500 L1260,1505 L1228,1505 Z" fill="#fefefe" stroke="#000" stroke-width="1.500"/>
<path d="M1232,1470 l14,-4 l0,30 l-14,6 z" fill="#fefefe" stroke="#000" stroke-width="2"/>
<path d="M1250,1494 q6,-12 16,-18 q5,0 2,8 q-6,12 -14,20 z M1264,1502 q6,-10 14,-14 q4,2 0,10 l-8,8 z" fill="#fefefe" stroke="#000" stroke-width="2"/>
<path d="M1217,1503 L1217,1452 Q1218,1444 1227,1443 L1240,1446 L1332,1499 L1452,1436 Q1460,1430 1456,1422 L1440,1410 L1418,1398" fill="none" stroke="#000" stroke-width="11" stroke-linejoin="round" stroke-linecap="butt"/>
<path d="M1217,1503 L1217,1452 Q1218,1444 1227,1443 L1240,1446 L1332,1499 L1452,1436 Q1460,1430 1456,1422 L1440,1410 L1418,1398" fill="none" stroke="#fefefe" stroke-width="7" stroke-linejoin="round" stroke-linecap="butt"/>
<path class="o" d="M1254.500,1441 L1368.700,1373 L1390,1382 L1430.400,1408.500 L1316,1475.500 L1300,1470 L1258,1452 Z"/>
<path class="n" d="M1258,1452 L1262,1463 L1296,1478 L1300,1470 M1316,1475.500 L1310,1482 L1296,1478"/>
<path class="t" d="M1390,1382 L1400,1376 L1432,1400 L1430,1408"/>
<path d="M1293,1448 l8,-3 l2,2 l-8,3 z" fill="#000" stroke="#000" stroke-width="1.5"/>
<path d="M1307,1469 l8,-3 l2,2 l-8,3 z" fill="#000" stroke="#000" stroke-width="1.5"/>
<path d="M1378,1402 l8,-3 l2,2 l-8,3 z" fill="#000" stroke="#000" stroke-width="1.5"/>
<path d="M1405,1411 l8,-3 l2,2 l-8,3 z" fill="#000" stroke="#000" stroke-width="1.5"/>
<path d="M1355,1438 l8,-3 l2,2 l-8,3 z" fill="#000" stroke="#000" stroke-width="1.5"/>
<ellipse cx="1276" cy="1441" rx="4" ry="2.500" class="t"/><ellipse cx="1365" cy="1388" rx="4" ry="2.500" class="t"/>
<path d="M1347,1380 L1347,1445 Q1352,1452 1357,1446 L1357,1384 Q1355,1376 1350,1378" fill="#fefefe" stroke="#000" stroke-width="2.200"/>
<path class="n" d="M1346,1392 l3,2 M1346,1420 l3,2"/>
<path class="o" d="M1145.600,1247 L1200.700,1213 L1208.600,1221 L1229.600,1263 L1311,1215.600 L1318.800,1213 L1313.600,1184 L1347.700,1167 L1366,1205 L1381.800,1213 L1379,1239 L1408,1256.300 L1408,1305 L1435.600,1319 L1435.600,1324.500 L1299,1404.600 L1295,1404.600 L1263.700,1386 L1237.500,1375.700 L1195.500,1370.500 L1145.600,1344 Z"/>
<path class="n" d="M1208.600,1221 L1234.900,1297 L1195.500,1320.600 L1169,1231"/>
<path class="t" d="M1172,1230 L1198,1318"/>
<path class="n" d="M1195.500,1320.600 L1195.500,1370.500"/>
<path class="t" d="M1195.500,1320.600 L1237.500,1324.500 L1263.700,1340 L1408,1257 M1237.500,1324.500 L1237.500,1375.700 M1263.700,1340 L1263.700,1386 M1198,1323 L1236,1328 L1262,1344"/>
<path class="n" d="M1313.600,1184 L1329,1221 L1318.800,1213 M1329,1221 L1366,1205"/>
<path class="t" d="M1263.700,1386 L1408,1305"/>
<ellipse cx="1312" cy="1379" rx="5" ry="2.500" class="t"/><ellipse cx="1401.500" cy="1325" rx="5" ry="2.500" class="t"/>
<path class="l" stroke="#333" d="M1312.300,1360 L1312.300,1378 M1401.500,1308 L1401.500,1324 M1162,1352 L1162,1380 M1207,1374 L1207,1407 M1275,1410 L1275,1440 M1312,1400 L1312,1430 L1275,1410 M1366,1370 L1366,1388 M1401.500,1345 L1401.500,1378"/>
<path class="l" d="M1296,1360 L1342,1343 M1382,1320 L1400,1312"/>
<path d="M1305.3,1339 l3,-4 l7,0 l4,4 l0,6 l-4,3 l-7,0 l-3,-3 z" fill="#fefefe" stroke="#000" stroke-width="1.5"/><ellipse cx="1312.3" cy="1340" rx="3.500" ry="2.200" class="t"/><path d="M1308.8,1348 v10 l2,2 h3 l2,-2 v-10" fill="#fefefe" stroke="#000" stroke-width="1.200"/><path d="M1308.8,1351 h7 M1308.8,1354 h7 M1308.8,1357 h7" stroke="#000" stroke-width="1" fill="none"/>
<path d="M1394.5,1286.5 l3,-4 l7,0 l4,4 l0,6 l-4,3 l-7,0 l-3,-3 z" fill="#fefefe" stroke="#000" stroke-width="1.5"/><ellipse cx="1401.5" cy="1287.5" rx="3.500" ry="2.200" class="t"/><path d="M1398,1295.5 v10 l2,2 h3 l2,-2 v-10" fill="#fefefe" stroke="#000" stroke-width="1.200"/><path d="M1398,1298.5 h7 M1398,1301.5 h7 M1398,1304.5 h7" stroke="#000" stroke-width="1" fill="none"/>
</g>
<!-- 80_leaders.svg -->
<g id="leaders" class="l" stroke="#555">
<path d="M223,63 L331,63"/>
<path d="M243,113 L243,194" stroke="#333"/>
<path d="M335,75 L348,108 M356.700,80 L363,98" stroke="#333"/>
<path d="M527.700,183 L527.700,213" stroke="#333"/>
<path d="M625,226 L678,226"/>
<path d="M748.300,246.700 L748.300,310"/>
<path d="M571.700,395 L621.700,395"/>
<path d="M495,419 L533,400 M463,193 L540,450 M520,206.700 L556.700,376.700 M553,415 L575,426.700 L513,463" stroke="#333"/>
<path d="M355,435 L408,435"/>
<path d="M829.500,335 L829.500,389" stroke="#333"/>
<path d="M914.500,325 L914.500,480" stroke="#333"/>
<path d="M1041,367 L1094.500,367"/>
<path d="M1140,493 L1224,493"/>
<path d="M1118,541 L1213,541"/>
<path d="M1215,668 L1267,668"/>
<path d="M1284,762.500 L1340.500,762.500"/>
<path d="M1288,833 L1347,833"/>
<path d="M1207.500,877 L1282,877"/>
<path d="M1325,880.500 L1370.500,880.500"/>
<path d="M607,606 L666,606"/>
<path d="M606,644 L646,644"/>
<path d="M572,697 L672,697"/>
<path d="M677,732.500 L677,767.500" stroke="#333"/>
<path d="M456,1134 L516,1134"/>
<path d="M620.500,1080 L620.500,1115" stroke="#333"/>
<path d="M455,1191 L513.500,1191"/>
<path d="M1332,1155 L1332,1192.500" stroke="#333"/>
<path d="M1313,1340 L1349,1340"/>
<path d="M988,1224 L1034.500,1255" stroke="#333"/>
<path d="M969.500,1280 L1009.500,1280"/>
<path d="M958,1401.700 L993,1401.700"/>
<path d="M1089,1395 L1126,1395"/>
<path d="M923,1467 L960,1467"/>
<path d="M713,1519 L780,1519"/>
<path d="M741.700,1647.700 L816.700,1647.700"/>
<path d="M838,1676.700 L890,1676.700"/>
<path d="M833,1720 L883,1720"/>
<path d="M751.700,1728 L820,1728"/>
<path d="M1187,500 L1187,772" stroke="#333"/>
</g>
<g stroke="#fefefe" stroke-width="1.600" fill="none">
<path d="M1208,668 L1215,668 M1313,880.500 L1325,880.500 M1187,652 L1187,772"/>
</g>
<g id="wedges" fill="#000">
<path d="M436.700,496.700 L380,577 L397,577 Z"/>
<path d="M394,854 L346,895 L365,895 Z"/>
<path d="M1170,1100 L1224,1075 L1224,1088 Z"/>
<path d="M1248,1475 L1211,1507 L1237,1507 Z"/>
</g>
<g id="smallparts">
<!-- T handle 52 -->
<path d="M250,116 L270,125" stroke="#000" stroke-width="3.500" fill="none"/>
<path class="o" d="M219,116 Q220,112 228,107 L243,96 Q250,94 252,97 L251,101 L232,113 L222,117 Z" style="stroke-width:1.400"/>
<path class="n" d="M232,113 L240,118 M243,105 L247,110 L252,116 M247,110 L250,118" style="stroke-width:1.100"/>
<!-- screws 39 -->
<ellipse cx="333" cy="60" rx="5.500" ry="4" class="tw" stroke="#555"/>
<path class="tw" d="M330,65 L337,64 L339,74 L333,76 Z"/><path class="t" d="M331,68 l7,-1 M332,71 l7,-1"/>
<ellipse cx="353" cy="65" rx="5.500" ry="4" class="tw"/>
<path class="tw" d="M350,70 L357,69 L359,80 L353,82 Z"/><path class="t" d="M351,73 l7,-1 M352,76 l7,-1"/>
</g>
<g id="logo">
<text x="1364" y="1785.500" font-family="Liberation Serif, serif" font-size="37" textLength="129" lengthAdjust="spacingAndGlyphs"><tspan fill="#4a6fb5">m</tspan><tspan fill="#4cae4c">o</tspan><tspan fill="#e868a8">t</tspan><tspan fill="#2e9e4e">o</tspan><tspan fill="#e8552a">r</tspan><tspan fill="#f0a020">u</tspan><tspan fill="#f5c518">f</tspan></text>
<text x="1493" y="1785" font-family="Liberation Sans, sans-serif" font-size="14" fill="#444433" textLength="20" lengthAdjust="spacingAndGlyphs">.de</text>
</g>
<!-- 90_labels.svg -->
<g id="labels" class="num">
<rect x="222" y="195" width="40" height="30" fill="#fefefe"/>
<rect x="515" y="156" width="38" height="27" fill="#fefefe"/>
<rect x="533" y="382" width="37" height="27" fill="#fefefe"/>
<rect x="316" y="424" width="39" height="28" fill="#fefefe"/>
<text x="191" y="75.2">39</text>
<text x="227.9" y="219">52</text>
<text x="518.9" y="178">53</text>
<text x="684.2" y="235.5">38</text>
<text x="734.7" y="242">34</text>
<text x="900" y="321.6">46</text>
<text x="1102.2" y="376.2">9</text>
<text x="1096.7" y="158">54</text>
<text x="1399.2" y="313">51</text>
<text x="536" y="404.3">27</text>
<text x="319.4" y="446.5">28</text>
<text x="1220.7" y="544.5">60</text>
<text x="670.7" y="615">32</text>
<text x="650.7" y="651">30</text>
<text x="543.7" y="701">31</text>
<text x="666.7" y="793">32</text>
<text x="1281.2" y="674">1</text>
<text x="1354.2" y="767">8</text>
<text x="1356.7" y="840">7</text>
<text x="1188.7" y="885">6</text>
<text x="1377.2" y="887.5">5</text>
<text x="423.7" y="1144">36</text>
<text x="609.7" y="1137.5">35</text>
<text x="1319.7" y="1147.5">29</text>
<text x="1038.2" y="1269.5">61</text>
<text x="1018.2" y="1290">2</text>
<text x="995.4" y="1416">24</text>
<text x="1065.4" y="1400">4</text>
<text x="1356.7" y="1344">59</text>
<text x="966.9" y="1481.5">57</text>
<text x="683.7" y="1526.7">19</text>
<text x="708.7" y="1659">25</text>
<text x="896.7" y="1688">58</text>
<text x="885.7" y="1730.7">56</text>
<text x="719.4" y="1740">26</text>
</g>
<g class="ref">
<text x="775" y="326">REF. KEY #1</text>
<text x="1230" y="501">REF. KEY #1</text>
<text x="337" y="1197.500">REF. KEY #1</text>
<rect x="455" y="1178" width="8" height="24" fill="#fefefe"/>
</g>
<g id="boxes">
<rect x="238.500" y="576" width="228.500" height="69" fill="#000"/>
<text class="lbl" x="352.500" y="595">REF.</text>
<text class="lbl" x="362.500" y="616" textLength="185" lengthAdjust="spacingAndGlyphs">CHASSIS FRONT PG.</text>
<text class="lbl" x="361" y="637" textLength="180" lengthAdjust="spacingAndGlyphs">(DASH &amp; SUPPORT )</text>
<rect x="200" y="894" width="224" height="69" fill="#000"/>
<text class="lbl" x="312.500" y="913">REF.</text>
<text class="lbl" x="321.500" y="934" textLength="204" lengthAdjust="spacingAndGlyphs">SUB. ASSY. FRAME PG.</text>
<text class="lbl" x="313.500" y="955">(FRAME)</text>
<rect x="1223.500" y="1047" width="223.500" height="68.500" fill="#000"/>
<text class="lbl" x="1335.500" y="1066">REF.</text>
<text class="lbl" x="1346.500" y="1086" textLength="197" lengthAdjust="spacingAndGlyphs">FRONT STEERING PG.</text>
<text class="lbl" x="1338" y="1107">(BOLTS)</text>
<rect x="1061" y="1506" width="223" height="68.500" fill="#000"/>
<text class="lbl" x="1172.700" y="1525">REF.</text>
<text class="lbl" x="1182.700" y="1545.700" textLength="185" lengthAdjust="spacingAndGlyphs">CHASSIS FRONT PG.</text>
<text class="lbl" x="1180" y="1565.700">(HEAT SHIELD)</text>
</g>
</svg>
</body></html>
